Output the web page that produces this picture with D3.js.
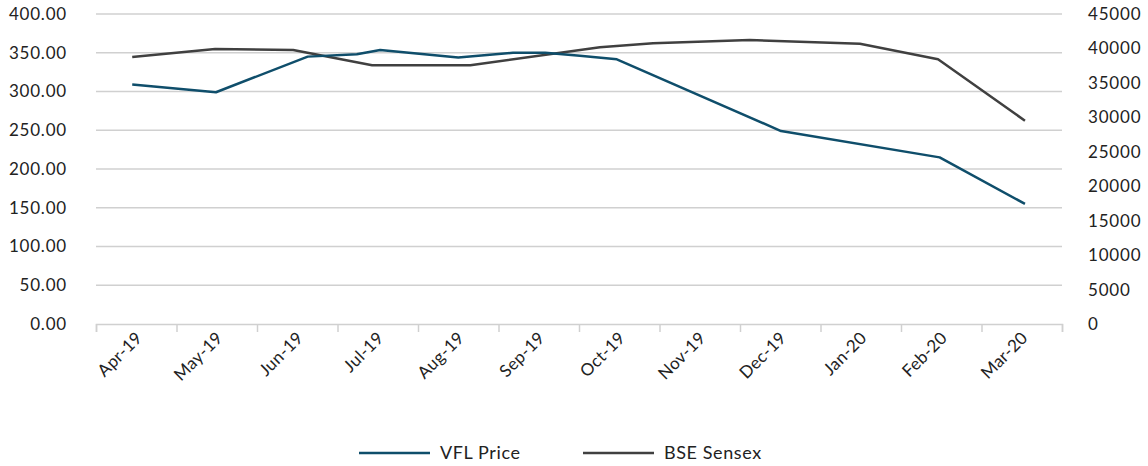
<!DOCTYPE html>
<html><head><meta charset="utf-8">
<script src="https://cdn.jsdelivr.net/npm/d3@7"></script>
<style>body{margin:0;background:#fff;} text{font-family:Lato,"Open Sans",sans-serif;fill:#222;}</style>
</head><body><svg id="c" width="1148" height="466"></svg>
<script>
const months = ["Apr-19","May-19","Jun-19","Jul-19","Aug-19","Sep-19","Oct-19","Nov-19","Dec-19","Jan-20","Feb-20","Mar-20"];
// position along time axis in months from start of Apr-19
const vflT = [0.45,1.49,2.63,3.24,3.53,4.50,5.18,5.58,6.01,6.47,8.51,10.48,11.54];
const vflPrice = [309,299,345,348,353.5,344,350,350,346,341.5,249,215,155];
const bseT = [0.45,1.48,2.45,3.43,4.65,6.26,6.92,8.12,9.49,10.46,11.54];
const bseSensex = [38760,39920,39770,37550,37550,40170,40750,41230,40690,38420,29510];
const leftTicks = [0,50,100,150,200,250,300,350,400];
const rightTicks = [0,5000,10000,15000,20000,25000,30000,35000,40000,45000];
const seriesNames = ["VFL Price","BSE Sensex"];
const colors = ["#0f4e6b","#404040"];

const svg = d3.select("#c");
const L=96, R=1062, T=14, B=324;
const x = d3.scaleLinear().domain([0,12]).range([L,R]);
const yL = d3.scaleLinear().domain([0,400]).range([B,T]);
const yR = d3.scaleLinear().domain([0,45000]).range([B,T]);

// gridlines
svg.append("g").selectAll("line").data(leftTicks.slice(1)).join("line")
  .attr("x1",L).attr("x2",R).attr("y1",d=>yL(d)).attr("y2",d=>yL(d))
  .attr("stroke","#d0d0d0").attr("stroke-width",1.5);

// x axis
const xa = svg.append("g").attr("transform",`translate(0,${B})`)
  .call(d3.axisBottom(x).tickValues(d3.range(0,13)).tickSize(8).tickFormat(""));
xa.select(".domain").attr("stroke","#d0d0d0").attr("stroke-width",1.5);
xa.selectAll(".tick line").attr("stroke","#d0d0d0").attr("stroke-width",1.5);
svg.append("g").selectAll("text").data(months).join("text")
  .attr("transform",(d,i)=>`translate(${x(i+0.5)+7},${B+15}) rotate(-45)`)
  .attr("text-anchor","end").attr("font-size",17).attr("letter-spacing","0.3px").text(d=>d);

// left axis
const la = svg.append("g").attr("transform",`translate(${L-26},0)`)
  .call(d3.axisLeft(yL).tickValues(leftTicks).tickSize(0).tickFormat(d3.format(".2f")));
la.select(".domain").remove();
la.selectAll("text").attr("font-size",17).attr("letter-spacing","0.8px").attr("fill","#222").attr("font-family","Lato");

// right axis
const ra = svg.append("g").attr("transform",`translate(${R+23},0)`)
  .call(d3.axisRight(yR).tickValues(rightTicks).tickSize(0).tickFormat(d3.format("d")));
ra.select(".domain").remove();
ra.selectAll("text").attr("font-size",17).attr("letter-spacing","0.8px").attr("fill","#222").attr("font-family","Lato");

// lines
const lineL = d3.line().x(d=>x(d[0])).y(d=>yL(d[1]));
const lineR = d3.line().x(d=>x(d[0])).y(d=>yR(d[1]));
svg.append("path").datum(bseT.map((t,i)=>[t,bseSensex[i]])).attr("d",lineR)
  .attr("fill","none").attr("stroke",colors[1]).attr("stroke-width",2.5).attr("stroke-linejoin","round");
svg.append("path").datum(vflT.map((t,i)=>[t,vflPrice[i]])).attr("d",lineL)
  .attr("fill","none").attr("stroke",colors[0]).attr("stroke-width",2.5).attr("stroke-linejoin","round");

// legend
const lg = svg.append("g");
const lx = [359,583];
seriesNames.forEach((n,i)=>{
  lg.append("line").attr("x1",lx[i]).attr("x2",lx[i]+71).attr("y1",453).attr("y2",453)
    .attr("stroke",colors[i]).attr("stroke-width",2.5);
  lg.append("text").attr("x",lx[i]+81).attr("y",459).attr("font-size",18).attr("letter-spacing","0.6px").text(n);
});
</script></body></html>
